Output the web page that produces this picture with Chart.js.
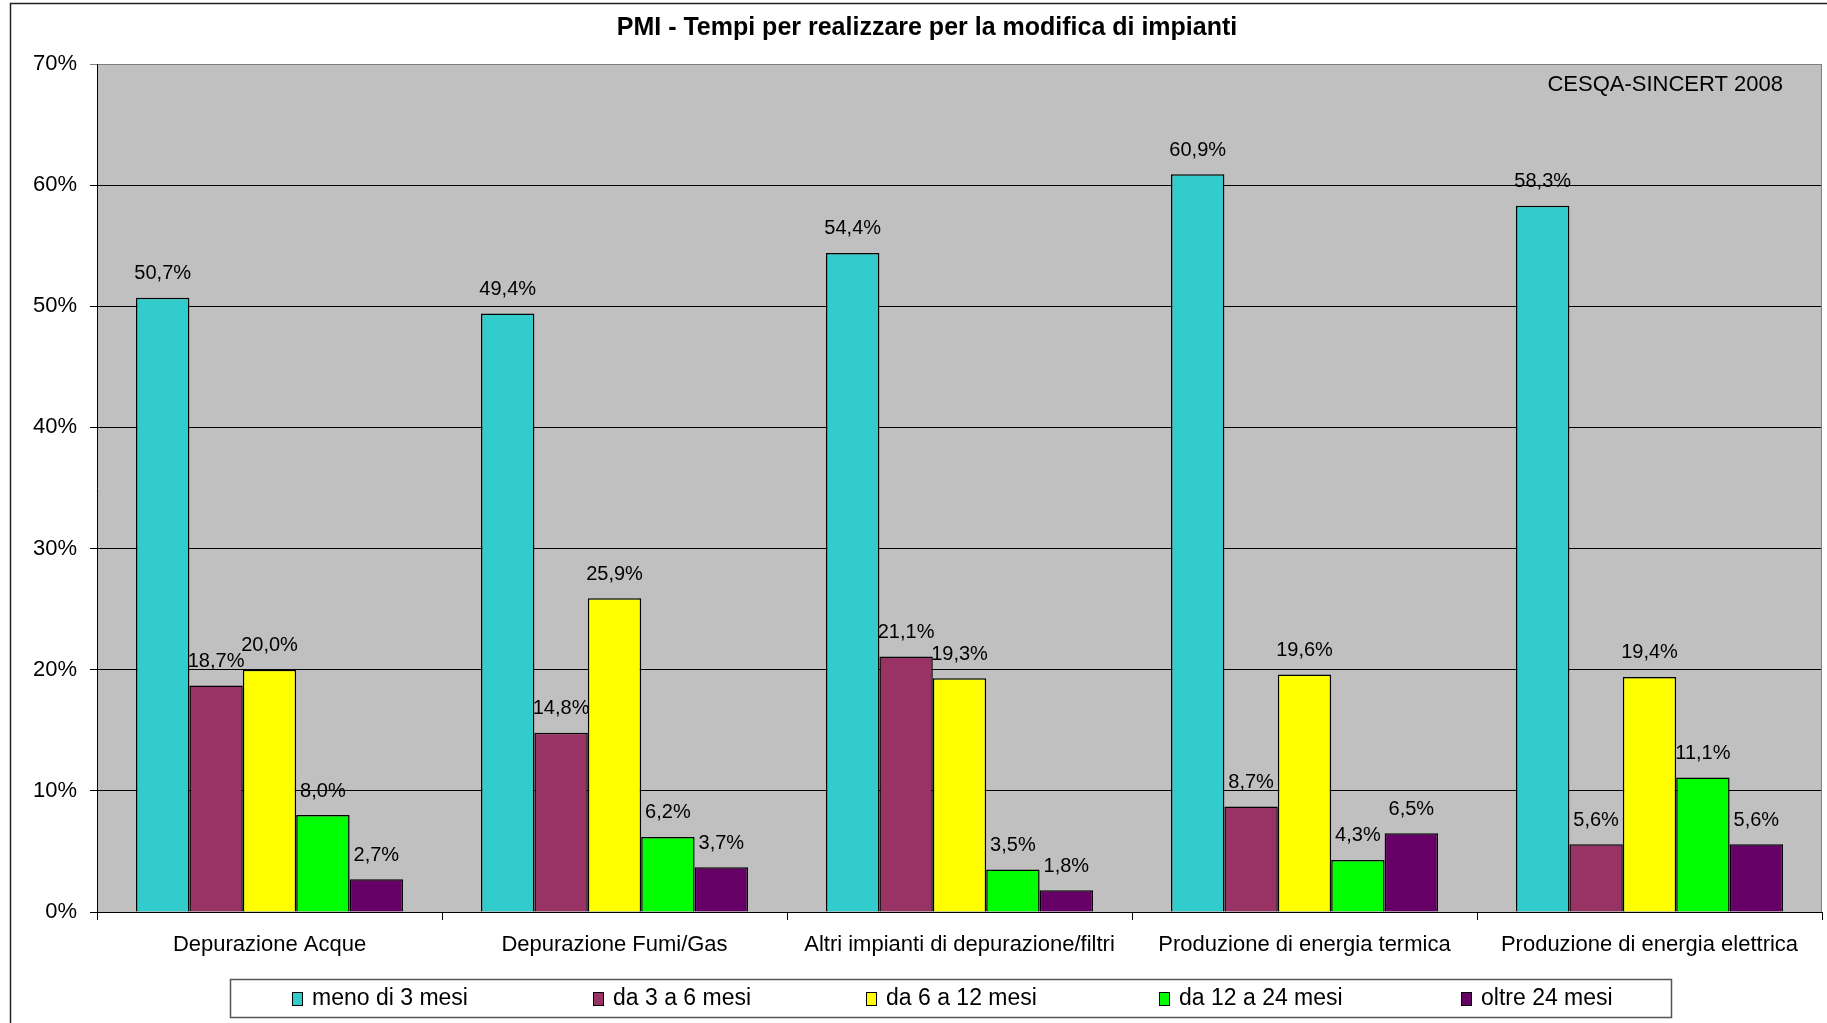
<!DOCTYPE html>
<html>
<head>
<meta charset="utf-8">
<script src="https://cdn.jsdelivr.net/npm/chart.js@4/dist/chart.umd.min.js"></script>
<style>
    html, body { margin: 0; padding: 0; background: #fff; }
    #wrap { width: 1827px; height: 1023px; }
</style>
</head>
<body>
<div id="wrap"><canvas id="chart" width="1827" height="1023"></canvas></div>
<script>
const categories = [
    "Depurazione Acque",
    "Depurazione Fumi/Gas",
    "Altri impianti di depurazione/filtri",
    "Produzione di energia termica",
    "Produzione di energia elettrica"
];
const seriesNames = ["meno di 3 mesi", "da 3 a 6 mesi", "da 6 a 12 mesi", "da 12 a 24 mesi", "oltre 24 mesi"];
const menoDi3Mesi = [50.7, 49.4, 54.4, 60.9, 58.3];
const da3a6Mesi = [18.7, 14.8, 21.1, 8.7, 5.6];
const da6a12Mesi = [20.0, 25.9, 19.3, 19.6, 19.4];
const da12a24Mesi = [8.0, 6.2, 3.5, 4.3, 11.1];
const oltre24Mesi = [2.7, 3.7, 1.8, 6.5, 5.6];
const yTicks = [0, 10, 20, 30, 40, 50, 60, 70];

const titleText = "PMI - Tempi per realizzare per la modifica di impianti";
const sourceText = "CESQA-SINCERT 2008";

const colors = ["#33CCCC", "#993366", "#FFFF00", "#00FF00", "#660066"];
const FONT = "'Liberation Sans', Arial, sans-serif";

function makeDataset(index, values) {
    return {
        label: seriesNames[index],
        data: values,
        backgroundColor: colors[index],
        borderColor: "#000",
        borderWidth: 1.5,
        barPercentage: 1,
        categoryPercentage: 0.774
    };
}

const frame = {
    id: "frame",
    beforeDraw(chart) {
        const { ctx, chartArea } = chart;
        ctx.save();
        ctx.fillStyle = "#C0C0C0";
        ctx.fillRect(chartArea.left, chartArea.top, chartArea.right - chartArea.left, chartArea.bottom - chartArea.top);
        ctx.restore();
    },
    afterDraw(chart) {
        const { ctx, chartArea } = chart;
        ctx.save();
        // outer border (only top and left visible)
        ctx.strokeStyle = "#222";
        ctx.lineWidth = 1.5;
        ctx.strokeRect(10.5, 3.5, 1900, 1100);

        // right edge of the plot
        ctx.strokeStyle = "#808080";
        ctx.lineWidth = 1;
        ctx.beginPath();
        ctx.moveTo(chartArea.right - 0.5, chartArea.top);
        ctx.lineTo(chartArea.right - 0.5, chartArea.bottom);
        ctx.stroke();

        // title
        ctx.fillStyle = "#000";
        ctx.font = "bold 25px " + FONT;
        ctx.textAlign = "center";
        ctx.textBaseline = "middle";
        ctx.fillText(titleText, 927, 28);

        // source note
        ctx.font = "22px " + FONT;
        ctx.textAlign = "right";
        ctx.fillText(sourceText, 1783, 85);

        // legend
        ctx.strokeStyle = "#555";
        ctx.lineWidth = 1.5;
        ctx.fillStyle = "#fff";
        ctx.fillRect(230, 979, 1441, 38);
        ctx.strokeRect(230.5, 979.5, 1441, 38);
        const legendX = [292, 593, 866, 1159, 1461];
        ctx.font = "23px " + FONT;
        ctx.textAlign = "left";
        chart.data.datasets.forEach((ds, i) => {
            ctx.fillStyle = ds.backgroundColor;
            ctx.fillRect(legendX[i], 992, 10, 13);
            ctx.strokeStyle = "#000";
            ctx.lineWidth = 1;
            ctx.strokeRect(legendX[i] + 0.5, 992.5, 10, 13);
            ctx.fillStyle = "#000";
            ctx.fillText(ds.label, legendX[i] + 20, 999);
        });
        ctx.restore();
    }
};

const valueLabels = {
    id: "valueLabels",
    afterDatasetsDraw(chart) {
        const { ctx } = chart;
        ctx.save();
        ctx.fillStyle = "#000";
        ctx.font = "20px " + FONT;
        ctx.textAlign = "center";
        ctx.textBaseline = "middle";
        chart.data.datasets.forEach((ds, i) => {
            chart.getDatasetMeta(i).data.forEach((bar, j) => {
                const text = ds.data[j].toFixed(1).replace(".", ",") + "%";
                ctx.fillText(text, bar.x, bar.y - 24);
            });
        });
        ctx.restore();
    }
};

new Chart(document.getElementById("chart"), {
    type: "bar",
    data: {
        labels: categories,
        datasets: [
            makeDataset(0, menoDi3Mesi),
            makeDataset(1, da3a6Mesi),
            makeDataset(2, da6a12Mesi),
            makeDataset(3, da12a24Mesi),
            makeDataset(4, oltre24Mesi)
        ]
    },
    options: {
        responsive: false,
        animation: false,
        layout: { padding: { left: 0, right: 5, top: 64, bottom: 0 } },
        plugins: {
            legend: { display: false },
            title: { display: false },
            tooltip: { enabled: false }
        },
        scales: {
            x: {
                afterFit: scale => { scale.height = 111; },
                grid: { display: true, drawOnChartArea: false, offset: true, color: "#000", tickLength: 8 },
                border: { color: "#000", width: 1 },
                ticks: { color: "#000", font: { family: FONT, size: 22 }, padding: 12, maxRotation: 0, autoSkip: false }
            },
            y: {
                min: 0,
                max: 70,
                afterFit: scale => { scale.width = 97; },
                afterBuildTicks: scale => { scale.ticks = yTicks.map(v => ({ value: v })); },
                grid: {
                    color: ctx => (ctx.tick && ctx.tick.value === 70 ? "#808080" : "#000"),
                    tickLength: 7,
                    lineWidth: 1
                },
                border: { color: "#000", width: 1 },
                ticks: {
                    color: "#000",
                    font: { family: FONT, size: 22 },
                    padding: 13,
                    callback: v => v + "%"
                }
            }
        }
    },
    plugins: [frame, valueLabels]
});
</script>
</body>
</html>
